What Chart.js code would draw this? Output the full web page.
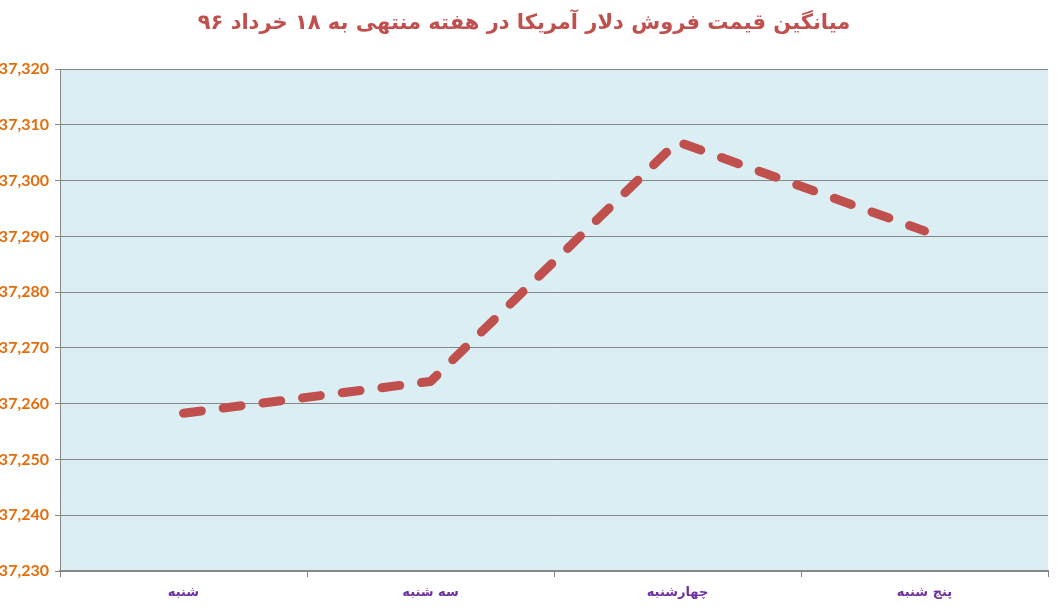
<!DOCTYPE html>
<html>
<head>
<meta charset="utf-8">
<script src="https://cdn.jsdelivr.net/npm/chart.js@4"></script>
<style>
html,body{margin:0;padding:0;background:#fff;}
#wrap{width:1058px;height:613px;position:relative;}
</style>
</head>
<body>
<div id="wrap"><canvas id="c"></canvas></div>
<script>
const titleText = 'میانگین قیمت فروش دلار آمریکا در هفته منتهی به ۱۸ خرداد ۹۶';
const categories = ['شنبه', 'سه شنبه', 'چهارشنبه', 'پنج شنبه'];
const prices = [37258.3, 37264, 37307, 37291];
const yMin = 37230;
const yMax = 37320;
const yStep = 10;

const plotBg = {
  id: 'plotBg',
  beforeDraw(chart) {
    const {ctx, chartArea: a} = chart;
    ctx.save();
    ctx.fillStyle = '#DBEEF3';
    ctx.fillRect(a.left, a.top, a.right - a.left, a.bottom - a.top);
    ctx.restore();
  }
};

new Chart(document.getElementById('c'), {
  type: 'line',
  data: {
    labels: categories,
    datasets: [{
      data: prices,
      borderColor: '#C0504D',
      borderWidth: 9,
      borderDash: [18, 22],
      borderCapStyle: 'round',
      borderJoinStyle: 'round',
      pointRadius: 0,
      tension: 0,
      fill: false
    }]
  },
  options: {
    responsive: true,
    maintainAspectRatio: false,
    animation: false,
    layout: {padding: {top: 4, right: 10, left: 0, bottom: 0}},
    plugins: {
      legend: {display: false},
      tooltip: {enabled: false},
      title: {
        display: true,
        text: titleText,
        color: '#C0504D',
        font: {family: 'DejaVu Sans', size: 21, weight: 'bold'},
        padding: {top: 7, bottom: 33}
      }
    },
    scales: {
      x: {
        offset: true,
        grid: {
          offset: true,
          drawOnChartArea: false,
          drawTicks: true,
          tickLength: 6,
          color: '#868686'
        },
        border: {color: '#868686', width: 2},
        ticks: {
          color: '#7030A0',
          font: {family: 'DejaVu Sans', size: 13, weight: 'bold'},
          padding: 8
        },
        afterFit(s) { s.height = 42; }
      },
      y: {
        min: yMin,
        max: yMax,
        grid: {
          color: '#868686',
          lineWidth: 1,
          tickLength: 5
        },
        border: {color: '#868686', width: 1},
        ticks: {
          stepSize: yStep,
          color: '#E46C0A',
          font: {family: 'Lato', size: 16, weight: 'bold'},
          padding: 6,
          callback: v => v.toLocaleString('en-US')
        },
        afterFit(s) { s.width = 60; }
      }
    }
  },
  plugins: [plotBg]
});
</script>
</body>
</html>
